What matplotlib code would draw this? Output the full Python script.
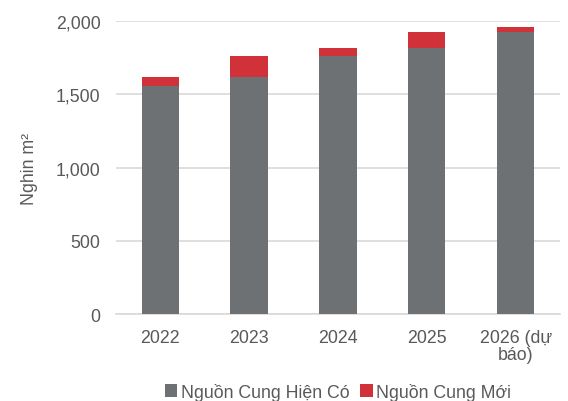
import matplotlib
matplotlib.use('Agg')
import matplotlib.pyplot as plt
import numpy as np

plt.rcParams['font.family'] = ['Liberation Sans', 'DejaVu Sans']

# data (thousand m2)
years = ['2022', '2023', '2024', '2025', '2026 (dự\nbáo)']
existing = [1559, 1621, 1765, 1815, 1925]
new_supply = [62, 144, 50, 110, 32]

gray = '#6d7174'
red = '#d13239'
txt = '#595959'
fs = 12.8

fig = plt.figure(figsize=(5.68, 4.02), dpi=100)
ax = fig.add_axes([0.204, 0.216, 0.782, 0.729])

x = np.arange(len(years))
ax.bar(x, existing, width=0.42, color=gray, label='Nguồn Cung Hiện Có', zorder=3)
ax.bar(x, new_supply, width=0.42, bottom=existing, color=red, label='Nguồn Cung Mới', zorder=3)

ax.set_ylim(0, 2000)
ax.set_xlim(-0.5, len(years) - 0.5)
ax.set_yticks([0, 500, 1000, 1500, 2000])
ax.set_yticklabels(['0', '500', '1,000', '1,500', '2,000'])
ax.set_xticks(x)
ax.set_xticklabels(years, multialignment='center', linespacing=0.95)
ax.grid(axis='y', color='#d9d9d9', linewidth=1.2, zorder=0)
for s in ['top', 'right', 'left']:
    ax.spines[s].set_visible(False)
ax.spines['bottom'].set_color('#d9d9d9')
ax.spines['bottom'].set_linewidth(1.2)
ax.tick_params(axis='both', length=0, labelsize=fs, colors=txt)
ax.tick_params(axis='y', pad=11)
ax.tick_params(axis='x', pad=11)
ax.set_ylabel('Nghin m²', fontsize=fs, color=txt, labelpad=13)

ax.legend(loc='center', bbox_to_anchor=(0.5, -0.265), ncol=2, frameon=False,
          fontsize=fs, labelcolor=txt, handlelength=0.7, handleheight=0.7,
          handletextpad=0.2, columnspacing=0.6)

plt.savefig('out.png', dpi=100)
